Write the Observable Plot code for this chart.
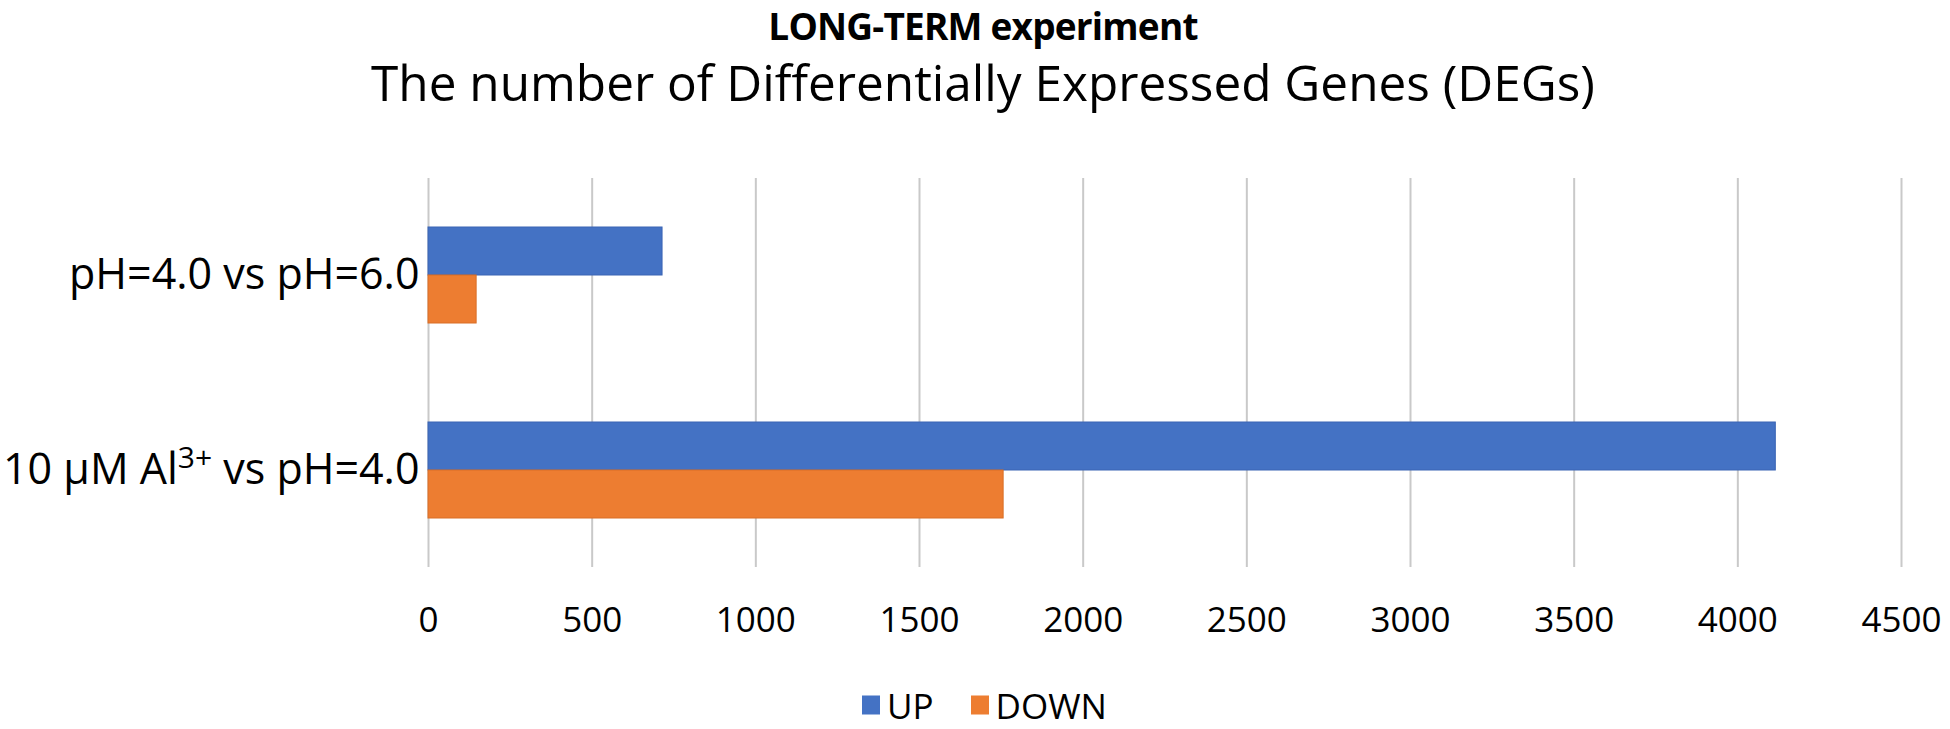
<!DOCTYPE html>
<html>
<head>
<meta charset="utf-8">
<script src="https://cdn.jsdelivr.net/npm/d3@7"></script>
<script src="https://cdn.jsdelivr.net/npm/@observablehq/plot@0.6"></script>
<style>
  html, body { margin: 0; padding: 0; background: #ffffff; }
  #wrap { position: relative; width: 1950px; height: 729px; font-family: "Open Sans", sans-serif; color: #000; overflow: hidden; }
  .t { position: absolute; left: 16px; width: 1934px; text-align: center; white-space: nowrap; line-height: normal; }
  #title { top: 0px; font-size: 37px; font-weight: 700; letter-spacing: -0.8px; }
  #subtitle { top: 48px; font-size: 49.5px; font-weight: 400; }
  #chart { position: absolute; left: 0; top: 0; }
  #legend { position: absolute; left: 862px; top: 705px; transform: translateY(-50%); display: flex; align-items: center; font-size: 35px; line-height: normal; white-space: nowrap; }
  #legend .item { display: flex; align-items: center; margin-right: 37px; }
  #legend .sw { width: 18px; height: 19px; margin-right: 7px; }
</style>
</head>
<body>
<div id="wrap">
  <div id="title" class="t">LONG-TERM experiment</div>
  <div id="subtitle" class="t">The number of Differentially Expressed Genes (DEGs)</div>
  <div id="chart"></div>
  <div id="legend"></div>
</div>
<script>
// ---- data ----
const categories = ["pH=4.0 vs pH=6.0", "10 µM Al³⁺ vs pH=4.0"];
const upValues = [715, 4116];
const downValues = [147, 1757];
const seriesNames = ["UP", "DOWN"];
const seriesColors = ["#4472C4", "#ED7D31"];
const seriesStrokes = ["#3A64B4", "#D96E26"];
const xTicks = [0, 500, 1000, 1500, 2000, 2500, 3000, 3500, 4000, 4500];

// ---- tables ----
const upRows = categories.map((c, i) => ({category: c, series: seriesNames[0], value: upValues[i]}));
const downRows = categories.map((c, i) => ({category: c, series: seriesNames[1], value: downValues[i]}));

const bandHalf = 48;

const svg = Plot.plot({
  width: 1950,
  height: 729,
  marginTop: 178,
  marginBottom: 162,
  marginLeft: 428,
  marginRight: 49,
  style: {fontFamily: "'Open Sans', sans-serif", color: "#000", background: "transparent", overflow: "visible"},
  x: {domain: [0, 4500]},
  y: {domain: categories, paddingInner: 0.508, paddingOuter: 0.25},
  marks: [
    Plot.ruleX(xTicks, {stroke: "#c9c9c9", strokeWidth: 2}),
    Plot.barX(upRows, {x: "value", y: "category", fill: seriesColors[0], stroke: seriesStrokes[0], strokeWidth: 1, insetBottom: bandHalf}),
    Plot.barX(downRows, {x: "value", y: "category", fill: seriesColors[1], stroke: seriesStrokes[1], strokeWidth: 1, insetTop: bandHalf}),
    Plot.axisX({ticks: xTicks, tickSize: 0, tickPadding: 40, fontSize: 35, label: null, tickFormat: d => String(d)}),
    Plot.axisY({tickSize: 0, tickPadding: 9, fontSize: 43, label: null})
  ]
});

// superscript for Al3+
d3.select(svg).selectAll("text").each(function () {
  const t = this.textContent;
  const i = t.indexOf("³⁺");
  if (i < 0) return;
  const sel = d3.select(this);
  sel.text(null);
  sel.append("tspan").text(t.slice(0, i));
  sel.append("tspan").attr("dy", -16).attr("font-size", 30).text("3+");
  sel.append("tspan").attr("dy", 16).text(t.slice(i + 2));
});

document.getElementById("chart").appendChild(svg);

// legend
const legend = document.getElementById("legend");
seriesNames.forEach((name, i) => {
  const item = document.createElement("div");
  item.className = "item";
  const sw = document.createElement("span");
  sw.className = "sw";
  sw.style.background = seriesColors[i];
  const lab = document.createElement("span");
  lab.textContent = name;
  item.appendChild(sw);
  item.appendChild(lab);
  legend.appendChild(item);
});
</script>
</body>
</html>
